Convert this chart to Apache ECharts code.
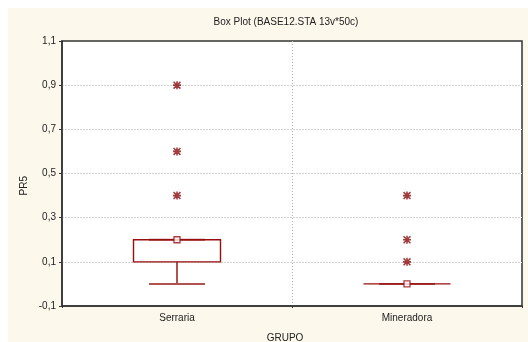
<!DOCTYPE html>
<html>
<head>
<meta charset="utf-8">
<script src="https://cdn.jsdelivr.net/npm/echarts@6/dist/echarts.min.js"></script>
<style>
  html, body { margin: 0; padding: 0; background: #fff; }
  #chart { width: 528px; height: 342px; }
</style>
</head>
<body>
<div id="chart"></div>
<script>
// groups on the x axis
const categories = ['Serraria', 'Mineradora'];
// [min, q1, median, q3, max] for the non-outlier range
const boxValues = [
    [0, 0.1, 0.2, 0.2, 0.2],
    [0, 0, 0, 0, 0]
];
// outliers: [category index, value]
const outliers = [
    [0, 0.9], [0, 0.6], [0, 0.4],
    [1, 0.4], [1, 0.2], [1, 0.1]
];
const yTicks = [-0.1, 0.1, 0.3, 0.5, 0.7, 0.9, 1.1];

const boxColor = '#980d0d';
const whiskerColor = '#b05252';
const font = 'Liberation Sans, Arial, sans-serif';

const chart = echarts.init(document.getElementById('chart'));

// asterisk: plus sign with a cross on top
const starPath = 'path://M4,0h2v4h4v2h-4v4h-2v-4h-4v-2h4z' +
    'M1.4,0l8.6,8.6l-1.4,1.4l-8.6,-8.6z M8.6,0l1.4,1.4l-8.6,8.6l-1.4,-1.4z';

function renderBox(params, api) {
    const idx = api.value(0);
    const v = boxValues[idx];
    const center = api.coord([idx, v[2]])[0];
    const boxHalf = 43.5;
    const capHalf = 28;
    const yMin = api.coord([idx, v[0]])[1];
    const yQ1 = api.coord([idx, v[1]])[1];
    const yQ3 = api.coord([idx, v[3]])[1];
    const yMax = api.coord([idx, v[4]])[1];
    const whiskerStyle = { stroke: whiskerColor, lineWidth: 2 };
    return {
        type: 'group',
        children: [
            { type: 'line', shape: { x1: center, y1: yMin, x2: center, y2: yQ1 }, style: whiskerStyle },
            { type: 'line', shape: { x1: center, y1: yQ3, x2: center, y2: yMax }, style: whiskerStyle },
            { type: 'line', shape: { x1: center - capHalf, y1: yMin, x2: center + capHalf, y2: yMin }, style: whiskerStyle },
            { type: 'line', shape: { x1: center - capHalf, y1: yMax, x2: center + capHalf, y2: yMax }, style: whiskerStyle },
            {
                type: 'rect',
                shape: { x: center - boxHalf, y: yQ3, width: boxHalf * 2, height: yQ1 - yQ3 },
                style: { fill: 'none', stroke: boxColor, lineWidth: 1.4 }
            }
        ]
    };
}

const option = {
    backgroundColor: '#ffffff',
    animation: false,
    graphic: [{
        type: 'rect',
        z: -10,
        silent: true,
        shape: { x: 8, y: 8, width: 520, height: 334 },
        style: { fill: '#fdf8ec' }
    }, {
        type: 'text',
        left: 19,
        top: 176,
        rotation: Math.PI / 2,
        style: { text: 'PR5', font: '10px ' + font, fill: '#222' }
    }],
    title: {
        text: 'Box Plot (BASE12.STA 13v*50c)',
        left: 281,
        top: 12,
        textAlign: 'center',
        textStyle: { fontSize: 10, fontWeight: 'normal', fontFamily: font, color: '#222' }
    },
    grid: {
        left: 62, right: 6, top: 41, bottom: 36,
        outerBoundsMode: 'none',
        show: true,
        backgroundColor: '#ffffff',
        borderColor: '#333',
        borderWidth: 1.5
    },
    xAxis: {
        type: 'category',
        data: categories,
        name: 'GRUPO',
        nameLocation: 'middle',
        nameGap: 27,
        nameTextStyle: { fontSize: 10, fontFamily: font, color: '#222', padding: [0, 14, 0, 0] },
        axisLine: { onZero: false, lineStyle: { color: '#333', width: 1.5 } },
        axisTick: { show: true, length: 2, lineStyle: { color: '#333' } },
        axisLabel: { fontSize: 10, fontFamily: font, color: '#222', margin: 7 },
        splitLine: {
            show: true, showMinLine: false, showMaxLine: false,
            lineStyle: { color: '#b0b0b0', type: [1, 2] }
        }
    },
    yAxis: {
        type: 'value',
        min: yTicks[0],
        max: yTicks[yTicks.length - 1],
        interval: 0.2,
        axisLine: { show: true, lineStyle: { color: '#333', width: 1.5 } },
        axisTick: { show: true, length: 3, lineStyle: { color: '#333' } },
        axisLabel: {
            fontSize: 10, fontFamily: font, color: '#222', margin: 6,
            formatter: function (v) { return v.toFixed(1).replace('.', ','); }
        },
        splitLine: {
            show: true, showMinLine: false, showMaxLine: false,
            lineStyle: { color: '#d2d2d2', type: [2, 1] }
        }
    },
    series: [{
        type: 'custom',
        renderItem: renderBox,
        data: boxValues.map(function (b, i) { return [i, b[2]]; }),
        z: 2
    }, {
        type: 'scatter',
        data: boxValues.map(function (b, i) { return [i, b[2]]; }),
        symbol: 'rect',
        symbolSize: 6,
        itemStyle: { color: '#fff', borderColor: boxColor, borderWidth: 1.3 },
        z: 4
    }, {
        type: 'scatter',
        data: outliers,
        symbol: starPath,
        symbolSize: 8,
        itemStyle: { color: '#8b0d0d' },
        z: 4
    }]
};

chart.setOption(option);
</script>
</body>
</html>
